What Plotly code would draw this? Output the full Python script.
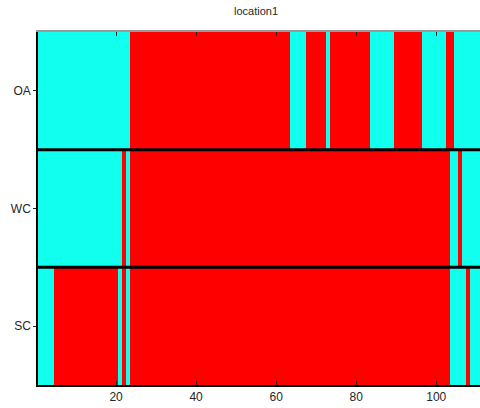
import plotly.graph_objects as go

# Row labels (top to bottom)
rows = ["OA", "WC", "SC"]
# State per column (0 = cyan, 1 = red), columns 1..111
oa_state = [0]*23 + [1]*40 + [0]*4 + [1]*5 + [0]*1 + [1]*10 + [0]*6 + [1]*7 + [0]*6 + [1]*2 + [0]*7
wc_state = [0]*21 + [1]*1 + [0]*1 + [1]*80 + [0]*2 + [1]*1 + [0]*5
sc_state = [0]*4 + [1]*16 + [0]*1 + [1]*1 + [0]*1 + [1]*80 + [0]*4 + [1]*1 + [0]*3
columns = list(range(1, len(oa_state) + 1))
x_ticks = [20, 40, 60, 80, 100]
title_text = "location1"

CYAN = "#10FFEE"
RED = "#FF0000"

fig = go.Figure()
fig.add_trace(go.Heatmap(
    z=[oa_state, wc_state, sc_state],
    x=columns,
    y=[0, 1, 2],
    zmin=0, zmax=1,
    colorscale=[[0, CYAN], [0.5, CYAN], [0.5, RED], [1, RED]],
    showscale=False,
    hoverinfo="skip",
))

# separator lines between rows
for yb in [0.5, 1.5]:
    fig.add_shape(type="line", xref="paper", yref="y", x0=0, x1=1, y0=yb, y1=yb,
                  line=dict(color="black", width=3), layer="above")

fig.update_layout(
    width=480, height=408,
    margin=dict(l=38, r=0, t=32, b=23),
    paper_bgcolor="white", plot_bgcolor="white",
    font=dict(family="Liberation Sans, Arial, sans-serif", size=12, color="#262626"),
    title=dict(text=title_text, x=256/480, xref="container", xanchor="center",
               y=1 - 11/408, yref="container", yanchor="middle",
               font=dict(size=11, color="#262626")),
    xaxis=dict(range=[0.5, 110.93], tickvals=x_ticks, ticks="inside", ticklen=4,
               tickcolor="#262626", showline=True, linecolor="black", linewidth=1.5,
               showgrid=False, zeroline=False, mirror=False),
    xaxis2=dict(range=[0.5, 110.93], tickvals=x_ticks, ticks="inside", ticklen=4,
                tickcolor="#262626", showticklabels=False, showline=True,
                linecolor="#9a9a9a", linewidth=1.5, overlaying="x", side="top",
                showgrid=False, zeroline=False),
    yaxis=dict(range=[2.5, -0.5], tickvals=[0, 1, 2], ticktext=rows, ticks="outside",
               ticklen=3, tickcolor="#262626", showline=True, linecolor="black",
               linewidth=1.5, showgrid=False, zeroline=False),
)
# invisible trace to activate the top axis
fig.add_trace(go.Scatter(x=[None], y=[None], xaxis="x2", showlegend=False, hoverinfo="skip"))

fig.write_html("out.html")
